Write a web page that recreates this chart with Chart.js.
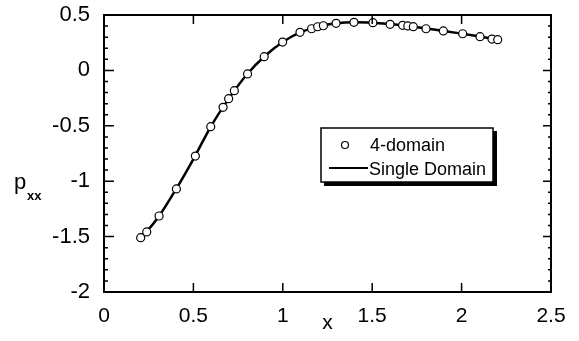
<!DOCTYPE html>
<html>
<head>
<meta charset="utf-8">
<script src="https://cdn.jsdelivr.net/npm/chart.js@4"></script>
<style>
  html, body { margin: 0; padding: 0; background: #fff; }
  #wrap { width: 579px; height: 341px; }
</style>
</head>
<body>
<div id="wrap"><canvas id="chart" width="579" height="341"></canvas></div>
<script>
// 4-domain solution (circles)
const domainX = [0.205, 0.239, 0.308, 0.405, 0.511, 0.597, 0.666, 0.697, 0.729, 0.803, 0.896, 0.999,
  1.096, 1.161, 1.195, 1.227, 1.298, 1.398, 1.504, 1.600, 1.670, 1.699, 1.730, 1.801, 1.898, 2.006,
  2.103, 2.170, 2.202];
const domainY = [-1.51, -1.458, -1.314, -1.07, -0.773, -0.508, -0.333, -0.255, -0.183, -0.032, 0.124, 0.256,
  0.344, 0.376, 0.394, 0.403, 0.425, 0.434, 0.431, 0.416, 0.407, 0.401, 0.395, 0.376, 0.356, 0.331,
  0.304, 0.283, 0.277];

// single domain solution (solid line)
const singleX = [0.2, 0.24, 0.31, 0.4, 0.5, 0.6, 0.7, 0.8, 0.9, 1.0, 1.1, 1.2, 1.3, 1.4, 1.5, 1.6,
  1.7, 1.8, 1.9, 2.0, 2.1, 2.2];
const singleY = [-1.5, -1.45, -1.31, -1.08, -0.8, -0.5, -0.25, -0.035, 0.13, 0.256, 0.345, 0.395, 0.425,
  0.434, 0.431, 0.418, 0.401, 0.378, 0.356, 0.332, 0.305, 0.278];

const xTicks = [0, 0.5, 1, 1.5, 2, 2.5];
const yTicks = [-2, -1.5, -1, -0.5, 0, 0.5];
const yMinorStep = 0.1;

const legendLabels = ["4-domain", "Single Domain"];
const FONT = "'Liberation Sans', Arial, Helvetica, sans-serif";

const toPoints = (xs, ys) => xs.map((x, i) => ({ x, y: ys[i] }));

// frame, inward ticks, axis titles and the boxed legend
const decorations = {
  id: "decorations",
  afterDraw(chart) {
    const { ctx, chartArea: a, scales } = chart;
    const xs = scales.x, ys = scales.y;
    ctx.save();
    ctx.strokeStyle = "#000";
    ctx.lineWidth = 2;
    ctx.strokeRect(a.left, a.top, a.right - a.left, a.bottom - a.top);

    ctx.lineWidth = 1.5;
    ctx.beginPath();
    for (const v of xTicks) {
      const px = xs.getPixelForValue(v);
      ctx.moveTo(px, a.bottom); ctx.lineTo(px, a.bottom - 9);
      ctx.moveTo(px, a.top); ctx.lineTo(px, a.top + 9);
    }
    const n = Math.round((yTicks[yTicks.length - 1] - yTicks[0]) / yMinorStep);
    for (let i = 0; i <= n; i++) {
      const v = yTicks[0] + i * yMinorStep;
      const major = i % 5 === 0;
      const py = ys.getPixelForValue(v);
      ctx.moveTo(a.left, py); ctx.lineTo(a.left + (major ? 10 : 4), py);
      ctx.moveTo(a.right, py); ctx.lineTo(a.right - (major ? 8 : 3), py);
    }
    ctx.stroke();

    // axis titles
    ctx.fillStyle = "#000";
    ctx.textBaseline = "alphabetic";
    ctx.textAlign = "center";
    ctx.font = "21px " + FONT;
    ctx.fillText("x", (a.left + a.right) / 2, 329);
    ctx.textAlign = "left";
    ctx.font = "22px " + FONT;
    ctx.fillText("p", 14, 189);
    ctx.font = "bold 13px " + FONT;
    ctx.fillText("xx", 27, 200);

    // legend box with drop shadow
    const bx = 321, by = 128, bw = 172, bh = 54;
    ctx.fillRect(bx + 3, by + 3, bw + 1, bh + 1);
    ctx.fillStyle = "#fff";
    ctx.fillRect(bx, by, bw, bh);
    ctx.lineWidth = 1.5;
    ctx.strokeRect(bx, by, bw, bh);

    ctx.beginPath();
    ctx.lineWidth = 1.2;
    ctx.arc(345, 145, 3.5, 0, Math.PI * 2);
    ctx.stroke();
    ctx.beginPath();
    ctx.lineWidth = 2;
    ctx.moveTo(329, 168); ctx.lineTo(368, 168);
    ctx.stroke();

    ctx.fillStyle = "#000";
    ctx.font = "18px " + FONT;
    ctx.fillText(legendLabels[0], 370, 151);
    ctx.fillText(legendLabels[1], 369, 175);
    ctx.restore();
  }
};

new Chart(document.getElementById("chart"), {
  type: "scatter",
  data: {
    datasets: [
      {
        label: legendLabels[1],
        data: toPoints(singleX, singleY),
        showLine: true,
        borderColor: "#000",
        borderWidth: 2.5,
        pointRadius: 0,
        tension: 0.35,
        cubicInterpolationMode: "monotone",
        order: 2,
      },
      {
        label: legendLabels[0],
        data: toPoints(domainX, domainY),
        showLine: false,
        pointRadius: 4,
        pointBackgroundColor: "#fff",
        pointBorderColor: "#000",
        pointBorderWidth: 1.2,
        order: 1,
      },
    ],
  },
  options: {
    responsive: false,
    animation: false,
    devicePixelRatio: 1,
    layout: { padding: { top: 15, right: 28, left: 0, bottom: 0 } },
    plugins: { legend: { display: false }, tooltip: { enabled: false } },
    scales: {
      x: {
        type: "linear",
        min: 0, max: 2.5,
        afterBuildTicks: (s) => { s.ticks = xTicks.map((v) => ({ value: v })); },
        afterFit: (s) => { s.height = 49; s.paddingLeft = 0; s.paddingRight = 0; },
        grid: { display: false, drawTicks: false },
        border: { display: false },
        ticks: {
          color: "#000",
          padding: 12,
          font: { family: FONT, size: 21 },
          maxRotation: 0,
          callback: (v) => String(v),
        },
      },
      y: {
        min: -2, max: 0.5,
        afterBuildTicks: (s) => { s.ticks = yTicks.map((v) => ({ value: v })); },
        afterFit: (s) => { s.width = 104; s.paddingTop = 0; s.paddingBottom = 0; },
        grid: { display: false, drawTicks: false },
        border: { display: false },
        ticks: {
          color: "#000",
          padding: 14,
          font: { family: FONT, size: 22 },
          callback: (v) => String(v),
        },
      },
    },
  },
  plugins: [decorations],
});
</script>
</body>
</html>
